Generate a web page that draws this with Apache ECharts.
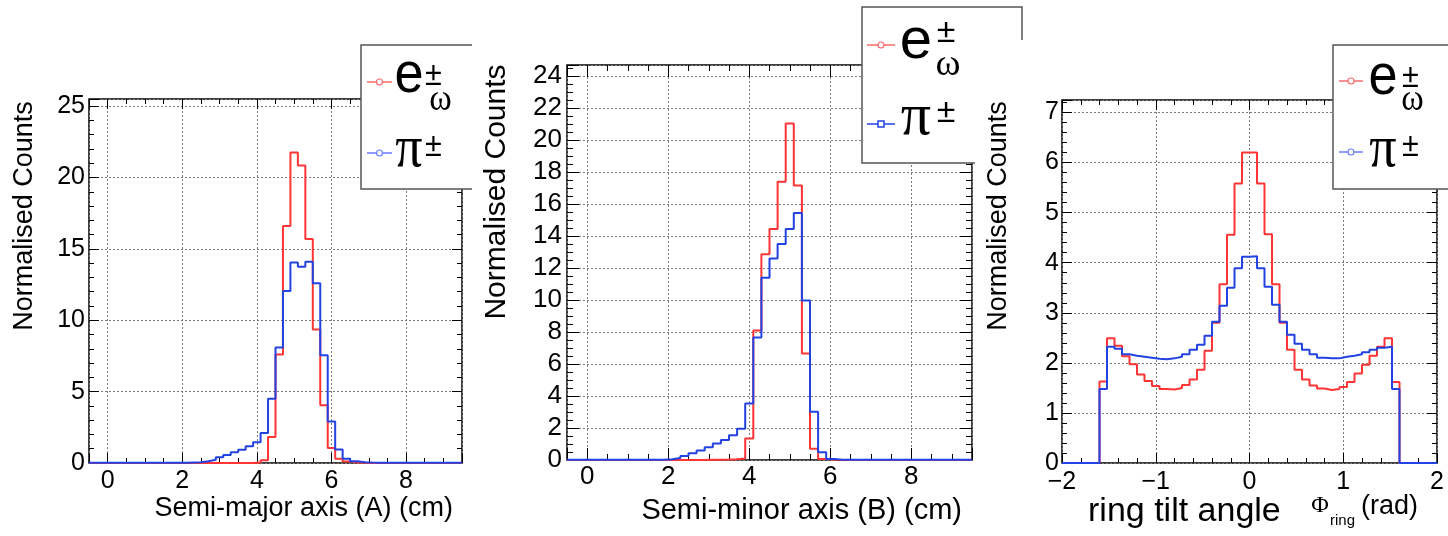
<!DOCTYPE html>
<html>
<head>
<meta charset="utf-8">
<script src="https://cdn.jsdelivr.net/npm/echarts@6/dist/echarts.min.js"></script>
<style>
html,body{margin:0;padding:0;background:#fff;}
#chart{width:1448px;height:536px;}
</style>
</head>
<body>
<div id="chart"></div>
<script>
// ---------------- data ----------------
// Semi-major / semi-minor histograms: 50 bins of width 0.2 starting at -0.5 cm
const binStartAB = -0.5;
const binWidthAB = 0.2;
// Ring tilt angle histograms: 50 bins of width 0.08 starting at -2 rad
const binStartPhi = -2.0;
const binWidthPhi = 0.08;

const semiMajorElectron = [
  0,0,0,0,0,0,0,0,0,0,
  0,0,0,0,0,0,0,0,0,0,
  0,0,0.03,0.2,1.83,7.6,16.6,21.75,20.85,15.7,
  9.35,4.05,1.05,0.3,0.1,0.04,0.01,0,0,0,
  0,0,0,0,0,0,0,0,0,0
];
const semiMajorPion = [
  0.01,0.01,0.01,0.01,0.01,0.01,0.01,0.01,0.01,0.01,
  0.01,0.01,0.01,0.03,0.05,0.12,0.23,0.4,0.56,0.75,
  0.93,1.17,1.45,2.1,4.5,8.1,12.05,14.05,13.75,14.1,
  12.6,7.55,2.9,0.95,0.3,0.13,0.06,0.03,0.02,0.01,
  0.01,0.01,0.01,0.01,0.01,0.01,0.01,0.01,0.01,0.01
];
const semiMinorElectron = [
  0,0,0,0,0,0,0,0,0,0,
  0,0,0,0,0,0,0,0.02,0.02,0.03,
  0.05,0.1,1.35,8.1,12.86,14.44,17.4,21.04,17.17,6.66,
  0.7,0.06,0.01,0,0,0,0,0,0,0,
  0,0,0,0,0,0,0,0,0,0
];
const semiMinorPion = [
  0.01,0.01,0.01,0.01,0.01,0.01,0.01,0.01,0.01,0.01,
  0.01,0.02,0.05,0.12,0.25,0.42,0.6,0.8,1.03,1.25,
  1.54,1.96,3.54,7.66,11.4,12.6,13.5,14.44,15.44,9.97,
  3.02,0.48,0.06,0.02,0.01,0.01,0.01,0.01,0.01,0.01,
  0.01,0.01,0.01,0.01,0.01,0.01,0.01,0.01,0.01,0.01
];
const tiltElectron = [
  0,0,0,0,0,
  1.63,2.49,2.34,2.13,1.97,1.77,1.64,1.54,1.48,1.47,
  1.50,1.56,1.67,1.86,2.24,2.80,3.57,4.56,5.58,6.20,
  6.20,5.58,4.57,3.57,2.80,2.26,1.86,1.67,1.55,1.49,
  1.46,1.48,1.52,1.62,1.79,1.96,2.14,2.32,2.49,1.62,
  0,0,0,0,0
];
const tiltPion = [
  0,0,0,0,0,
  1.48,2.32,2.28,2.17,2.14,2.12,2.10,2.08,2.07,2.09,
  2.12,2.17,2.26,2.36,2.54,2.82,3.14,3.50,3.89,4.12,
  4.13,3.89,3.52,3.16,2.82,2.56,2.38,2.26,2.17,2.10,
  2.09,2.09,2.12,2.14,2.17,2.21,2.26,2.30,2.32,1.48,
  0,0,0,0,0
];

const yTitle = 'Normalised Counts';
const xTitles = ['Semi-major axis (A) (cm)', 'Semi-minor axis (B) (cm)'];
const tiltTitleMain = 'ring tilt angle';
const tiltTitleSym = '\u03A6';
const tiltTitleSub = 'ring';
const tiltTitleUnit = '(rad)';

// ---------------- styling ----------------
const SANS = '"Liberation Sans", Arial, Helvetica, sans-serif';
const SERIF = '"Liberation Serif", "DejaVu Serif", serif';
const RED = '#ff3434';
const BLUE = '#2242e2';

function steps(start, width, vals) {
  const pts = vals.map((v, i) => [+(start + i * width).toFixed(6), v]);
  pts.push([+(start + vals.length * width).toFixed(6), vals[vals.length - 1]]);
  return pts;
}

const grids = [
  {left: 89, top: 99, width: 373, height: 364},
  {left: 567, top: 65, width: 405, height: 395},
  {left: 1062, top: 100, width: 375, height: 363}
];
const panels = [
  {x: {min: -0.5, max: 9.5, interval: null, minor: 0.5}, y: {min: 0, max: 25.5, interval: 5, minor: 1},
   fs: 25, major: 10, minorLen: 5, xm: 6, ym: 4},
  {x: {min: -0.5, max: 9.5, interval: null, minor: 0.5}, y: {min: 0, max: 24.7, interval: 2, minor: 0.5},
   fs: 26, major: 12, minorLen: 6, xm: 4, ym: 5},
  {x: {min: -2, max: 2, interval: 1, minor: 0.2}, y: {min: 0, max: 7.25, interval: 1, minor: 0.2},
   fs: 25, major: 10, minorLen: 5, xm: 7, ym: 3}
];

function fmt(v) {
  if (Math.abs(v - Math.round(v)) > 1e-6) return '';
  const r = Math.round(v);
  return r < 0 ? '\u2212' + Math.abs(r) : String(r);
}

function makeAxis(p, dim, position, kind, withLabel) {
  const cfg = panels[p];
  const a = cfg[dim];
  const o = {
    type: 'value', gridIndex: p, position: position, min: a.min, max: a.max,
    axisLine: {show: false, onZero: false},
    axisTick: {show: true, inside: true, length: kind === 'major' ? cfg.major : cfg.minorLen,
               lineStyle: {color: '#000', width: 1}},
    axisLabel: {show: false},
    splitLine: {show: false},
    minorTick: {show: false}, minorSplitLine: {show: false},
    axisPointer: {show: false}
  };
  if (kind === 'major') {
    if (a.interval) o.interval = a.interval; else o.splitNumber = 5;
    if (withLabel) {
      o.axisLabel = {show: true, formatter: fmt, color: '#000', fontFamily: SANS, fontSize: cfg.fs,
                     margin: dim === 'x' ? cfg.xm : cfg.ym, showMinLabel: true, showMaxLabel: true};
      o.splitLine = {show: true, lineStyle: {color: '#7a7a7a', width: 1, type: [2, 2]}};
    }
  } else {
    o.interval = a.minor;
  }
  return o;
}

const xAxes = [], yAxes = [];
for (let p = 0; p < 3; p++) {
  xAxes.push(makeAxis(p, 'x', 'bottom', 'major', true));
  xAxes.push(makeAxis(p, 'x', 'bottom', 'minor', false));
  xAxes.push(makeAxis(p, 'x', 'top', 'major', false));
  xAxes.push(makeAxis(p, 'x', 'top', 'minor', false));
  yAxes.push(makeAxis(p, 'y', 'left', 'major', true));
  yAxes.push(makeAxis(p, 'y', 'left', 'minor', false));
  yAxes.push(makeAxis(p, 'y', 'right', 'major', false));
  yAxes.push(makeAxis(p, 'y', 'right', 'minor', false));
}

function hist(p, data, color, z) {
  return {
    type: 'line', xAxisIndex: p * 4, yAxisIndex: p * 4, step: 'end', data: data,
    symbol: 'none', showSymbol: false, animation: false, silent: true,
    lineStyle: {color: color, width: 2}, z: z
  };
}

const series = [
  hist(0, steps(binStartAB, binWidthAB, semiMajorElectron), RED, 3),
  hist(0, steps(binStartAB, binWidthAB, semiMajorPion), BLUE, 4),
  hist(1, steps(binStartAB, binWidthAB, semiMinorElectron), RED, 3),
  hist(1, steps(binStartAB, binWidthAB, semiMinorPion), BLUE, 4),
  hist(2, steps(binStartPhi, binWidthPhi, tiltElectron), RED, 3),
  hist(2, steps(binStartPhi, binWidthPhi, tiltPion), BLUE, 4)
];

// ---------------- graphic (titles & legends) ----------------
const G = [];
function txt(x, y, text, font, opts) {
  opts = opts || {};
  const el = {
    type: 'text', x: x, y: y, z: 60, silent: true,
    rotation: opts.rotation || 0, scaleX: opts.scaleX || 1,
    style: {text: text, font: font, fill: '#000',
            align: opts.align || 'center', verticalAlign: opts.valign || 'middle',
            textAlign: opts.align || 'center', textVerticalAlign: opts.valign || 'middle'}
  };
  G.push(el);
}
function seg(x1, y1, x2, y2, color, w) {
  G.push({type: 'line', z: 55, silent: true, shape: {x1, y1, x2, y2}, style: {stroke: color, lineWidth: w}});
}
function poly(points, color, w) {
  G.push({type: 'polyline', z: 55, silent: true, shape: {points: points}, style: {stroke: color, lineWidth: w, fill: null}});
}
function whiteRect(x, y, w, h) {
  G.push({type: 'rect', z: 50, silent: true, shape: {x, y, width: w, height: h}, style: {fill: '#fff', stroke: null}});
}
function circ(cx, cy, r, color, fillc) {
  G.push({type: 'circle', z: 56, silent: true, shape: {cx, cy, r}, style: {stroke: color, fill: fillc, lineWidth: 1.2}});
}
function sq(cx, cy, s, color) {
  G.push({type: 'rect', z: 56, silent: true, shape: {x: cx - s / 2, y: cy - s / 2, width: s, height: s}, style: {stroke: color, fill: '#fff', lineWidth: 1.5}});
}

// y titles
txt(25, 216, yTitle, '27px ' + SANS, {rotation: Math.PI / 2});
txt(497, 192, yTitle, '30px ' + SANS, {rotation: Math.PI / 2});
txt(999, 216, yTitle, '27px ' + SANS, {rotation: Math.PI / 2});
// x titles
txt(453, 509, xTitles[0], '27px ' + SANS, {align: 'right'});
txt(962, 511, xTitles[1], '29px ' + SANS, {align: 'right'});
txt(1088, 512, tiltTitleMain, '34px ' + SANS, {align: 'left'});
txt(1320, 506, tiltTitleSym, '24px ' + SERIF);
txt(1330, 521, tiltTitleSub, '15px ' + SANS, {align: 'left'});
txt(1361, 507, tiltTitleUnit, '27px ' + SANS, {align: 'left'});

// legend entries
function legendEntries(o) {
  // e row
  seg(o.lx1, o.ey, o.lx2, o.ey, o.redLine, 1.5);
  circ((o.lx1 + o.lx2) / 2, o.ey, 3, o.redLine, '#fff');
  txt(o.tx, o.eY, 'e', '58px ' + SANS, {scaleX: o.sx});
  txt(o.pmx, o.pm1, '\u00B1', '34px ' + SANS, {scaleX: o.sx});
  txt(o.wx, o.wY, '\u03C9', '38px ' + SERIF, {scaleX: o.sx});
  // pi row
  seg(o.lx1, o.py, o.lx2, o.py, o.blueLine, 1.5);
  if (o.square) sq((o.lx1 + o.lx2) / 2, o.py, 6, o.blueLine);
  else circ((o.lx1 + o.lx2) / 2, o.py, 3, o.blueLine, '#fff');
  txt(o.tx, o.pY, '\u03C0', '60px ' + SERIF, {scaleX: o.sx});
  txt(o.pmx, o.pm2, '\u00B1', '34px ' + SANS, {scaleX: o.sx});
}

// legend 1 (right side hidden by panel 2)
whiteRect(361, 45, 111, 144);
poly([[472, 45], [361, 45], [361, 189], [472, 189]], '#555', 1.5);
legendEntries({lx1: 367, lx2: 392, ey: 82, py: 153, redLine: '#ff6b6b', blueLine: '#6b7dff',
  tx: 409, eY: 76, pmx: 433.5, pm1: 76, wx: 440.5, wY: 100, pY: 150, pm2: 147, sx: 0.9, square: false});

// legend 2 (lower right hidden by panel 3)
whiteRect(862, 7, 113, 156);
whiteRect(975, 7, 47, 33);
poly([[1022, 40], [1022, 7], [862, 7], [862, 163], [975, 163]], '#555', 1.5);
legendEntries({lx1: 867, lx2: 895, ey: 45, py: 124, redLine: '#ff6b6b', blueLine: '#2242e2',
  tx: 916, eY: 42, pmx: 946, pm1: 33, wx: 948, wY: 65, pY: 118, pm2: 113, sx: 1.0, square: true});

// legend 3 (right side at image edge)
whiteRect(1333, 45, 120, 144);
poly([[1460, 45], [1333, 45], [1333, 189], [1460, 189]], '#555', 1.5);
legendEntries({lx1: 1339, lx2: 1363, ey: 81, py: 152, redLine: '#ff6b6b', blueLine: '#6b7dff',
  tx: 1383, eY: 77.5, pmx: 1410.5, pm1: 78, wx: 1412.5, wY: 100, pY: 150.5, pm2: 146.5, sx: 0.9, square: false});

const chart = echarts.init(document.getElementById('chart'), null, {renderer: 'canvas'});
chart.setOption({
  backgroundColor: '#fff',
  animation: false,
  grid: grids.map(g => Object.assign({show: true, borderColor: '#000', borderWidth: 1.5, backgroundColor: 'transparent', containLabel: false}, g)),
  xAxis: xAxes,
  yAxis: yAxes,
  series: series,
  graphic: {elements: G}
});
</script>
</body>
</html>
